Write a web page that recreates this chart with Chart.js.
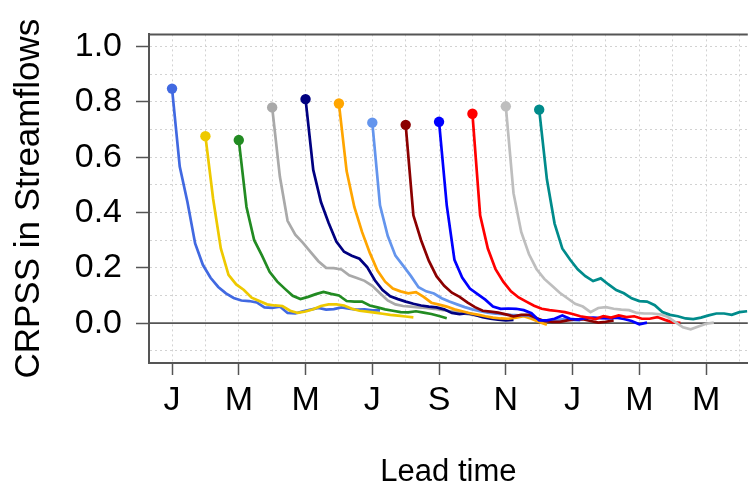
<!DOCTYPE html>
<html>
<head>
<meta charset="utf-8">
<title>CRPSS in Streamflows</title>
<script src="https://cdn.jsdelivr.net/npm/chart.js@4/dist/chart.umd.min.js"></script>
<style>
  html, body { margin: 0; padding: 0; background: #fff; overflow: hidden; }
  #wrap { width: 753px; height: 486px; position: relative; }
</style>
</head>
<body>
<div id="wrap"><canvas id="crpss"></canvas></div>
<script>
// issue month of each forecast run (0 = January of the first year)
var startMonths = [0, 1, 2, 3, 4, 5, 6, 7, 8, 9, 10, 11];
var startNames = ['Jan', 'Feb', 'Mar', 'Apr', 'May', 'Jun', 'Jul', 'Aug', 'Sep', 'Oct', 'Nov', 'Dec'];
var lineColors = ['#4169E1', '#EEC900', '#228B22', '#A9A9A9', '#000080', '#FFA500',
                  '#6495ED', '#8B0000', '#0000FF', '#FF0000', '#BEBEBE', '#008B8B'];
var weekStep = 12 / 52; // one week of lead time, in months

// weekly CRPSS, lead week 0..27, one list per issue month
var crpssJan = [0.848, 0.566, 0.438, 0.288, 0.211, 0.164, 0.131, 0.108, 0.091, 0.082, 0.080, 0.075, 0.057, 0.055, 0.060, 0.037, 0.035, 0.043, 0.049, 0.055, 0.049, 0.051, 0.057, 0.052, 0.049, 0.050, 0.046, 0.046];
var crpssFeb = [0.676, 0.450, 0.270, 0.175, 0.140, 0.120, 0.092, 0.080, 0.068, 0.064, 0.062, 0.045, 0.037, 0.042, 0.050, 0.062, 0.068, 0.068, 0.064, 0.052, 0.045, 0.042, 0.038, 0.034, 0.030, 0.027, 0.024, 0.021];
var crpssMar = [0.662, 0.420, 0.300, 0.245, 0.186, 0.150, 0.124, 0.099, 0.087, 0.095, 0.105, 0.113, 0.106, 0.100, 0.080, 0.078, 0.078, 0.064, 0.057, 0.050, 0.045, 0.040, 0.039, 0.043, 0.038, 0.033, 0.026, 0.018];
var crpssApr = [0.780, 0.530, 0.370, 0.320, 0.290, 0.257, 0.224, 0.200, 0.199, 0.194, 0.173, 0.163, 0.153, 0.135, 0.108, 0.082, 0.068, 0.062, 0.060, 0.057, 0.055, 0.052, 0.048, 0.044, 0.040, 0.034, 0.030, 0.026];
var crpssMay = [0.810, 0.554, 0.438, 0.362, 0.295, 0.258, 0.244, 0.233, 0.203, 0.155, 0.120, 0.097, 0.087, 0.078, 0.070, 0.064, 0.060, 0.057, 0.050, 0.037, 0.033, 0.036, 0.030, 0.022, 0.016, 0.013, 0.010, 0.012];
var crpssJun = [0.794, 0.550, 0.420, 0.330, 0.255, 0.190, 0.150, 0.125, 0.115, 0.108, 0.112, 0.095, 0.074, 0.067, 0.060, 0.050, 0.043, 0.036, 0.031, 0.025, 0.020, 0.017, 0.016, 0.020, 0.025, 0.016, 0.004, -0.006];
var crpssJul = [0.725, 0.426, 0.316, 0.244, 0.208, 0.171, 0.130, 0.115, 0.107, 0.090, 0.078, 0.068, 0.058, 0.050, 0.043, 0.038, 0.034, 0.033, 0.030, 0.028, 0.029, 0.022, 0.010, 0.010, 0.012, 0.015, 0.012, 0.010];
var crpssAug = [0.717, 0.390, 0.300, 0.226, 0.170, 0.135, 0.110, 0.095, 0.075, 0.058, 0.045, 0.042, 0.038, 0.032, 0.025, 0.030, 0.030, 0.018, 0.008, 0.005, 0.005, 0.010, 0.014, 0.014, 0.008, 0.002, 0.005, 0.010];
var crpssSep = [0.728, 0.426, 0.229, 0.165, 0.125, 0.105, 0.085, 0.060, 0.052, 0.053, 0.052, 0.047, 0.036, 0.010, 0.010, 0.016, 0.028, 0.016, 0.013, 0.018, 0.020, 0.018, 0.017, 0.020, 0.015, 0.008, -0.004, 0.002];
var crpssOct = [0.757, 0.390, 0.270, 0.195, 0.150, 0.115, 0.093, 0.078, 0.063, 0.052, 0.047, 0.044, 0.040, 0.033, 0.025, 0.020, 0.015, 0.025, 0.020, 0.028, 0.022, 0.025, 0.016, 0.016, 0.022, 0.012, 0.003, 0.001];
var crpssNov = [0.784, 0.470, 0.330, 0.250, 0.195, 0.160, 0.135, 0.110, 0.090, 0.070, 0.060, 0.040, 0.055, 0.058, 0.052, 0.049, 0.047, 0.037, 0.035, 0.035, 0.032, 0.023, 0.004, -0.015, -0.022, -0.012, -0.002, 0.002];
var crpssDec = [0.772, 0.520, 0.360, 0.270, 0.230, 0.195, 0.170, 0.152, 0.162, 0.140, 0.120, 0.108, 0.090, 0.080, 0.078, 0.065, 0.040, 0.030, 0.025, 0.017, 0.015, 0.020, 0.028, 0.035, 0.035, 0.030, 0.040, 0.043];

var xGridMonths = [0, 1, 2, 3, 4, 5, 6, 7, 8, 9, 10, 11, 12, 13, 14, 15, 16, 17];
var xTickMonths = [0, 2, 4, 6, 8, 10, 12, 14, 16];
var xTickLabels = ['J', 'M', 'M', 'J', 'S', 'N', 'J', 'M', 'M'];
var yGridValues = [-0.1, 0, 0.1, 0.2, 0.3, 0.4, 0.5, 0.6, 0.7, 0.8, 0.9, 1.0];
var yTickValues = [0, 0.2, 0.4, 0.6, 0.8, 1.0];

var series = [crpssJan, crpssFeb, crpssMar, crpssApr, crpssMay, crpssJun,
              crpssJul, crpssAug, crpssSep, crpssOct, crpssNov, crpssDec];

var fontFamily = '"Liberation Sans", Arial, sans-serif';
var axisColor = '#555';
var gridColor = '#d2d2d2';

var datasets = series.map(function(vals, i) {
    return {
        label: startNames[i],
        data: vals.map(function(v, k) {
            return {x: startMonths[i] + k * weekStep, y: v};
        }),
        borderColor: lineColors[i],
        backgroundColor: lineColors[i],
        borderWidth: 2.7,
        pointRadius: function(ctx) { return ctx.dataIndex === 0 ? 5.2 : 0; },
        pointBorderWidth: 0,
        pointHoverRadius: 0,
        tension: 0,
        order: series.length - i   // later issue months drawn on top
    };
});

// zero reference line and the top edge of the box
var framePlugin = {
    id: 'frame',
    beforeDatasetsDraw: function(chart) {
        var ctx = chart.ctx;
        var area = chart.chartArea;
        var y0 = chart.scales.y.getPixelForValue(0);
        ctx.save();
        ctx.strokeStyle = axisColor;
        ctx.lineWidth = 1.6;
        ctx.beginPath();
        ctx.moveTo(area.left, y0);
        ctx.lineTo(area.right, y0);
        ctx.stroke();
        ctx.lineWidth = 2;
        ctx.beginPath();
        ctx.moveTo(area.left, area.top);
        ctx.lineTo(area.right, area.top);
        ctx.stroke();
        ctx.restore();
    }
};

new Chart(document.getElementById('crpss'), {
    type: 'line',
    data: {datasets: datasets},
    plugins: [framePlugin],
    options: {
        responsive: true,
        maintainAspectRatio: false,
        animation: false,
        layout: {padding: {left: 0, right: 0, top: 23, bottom: 0}},
        plugins: {
            legend: {display: false},
            tooltip: {enabled: false}
        },
        scales: {
            x: {
                type: 'linear',
                min: -0.69,
                max: 17.25,
                afterBuildTicks: function(scale) {
                    scale.ticks = xGridMonths.map(function(v) { return {value: v}; });
                },
                afterFit: function(scale) { scale.height = 123; },
                ticks: {
                    autoSkip: false,
                    maxRotation: 0,
                    padding: 5,
                    color: '#000',
                    font: {family: fontFamily, size: 34},
                    callback: function(v) {
                        var i = xTickMonths.indexOf(v);
                        return i >= 0 ? xTickLabels[i] : '';
                    }
                },
                grid: {
                    color: gridColor,
                    lineWidth: 1,
                    tickLength: 12,
                    tickWidth: 1.5,
                    tickBorderDash: [],
                    tickColor: function(ctx) {
                        return xTickMonths.indexOf(ctx.tick.value) >= 0 ? axisColor : 'rgba(0,0,0,0)';
                    }
                },
                border: {display: true, color: axisColor, width: 2, dash: [2, 3]},
                title: {
                    display: true,
                    text: 'Lead time',
                    color: '#000',
                    font: {family: fontFamily, size: 31, lineHeight: 0.9},
                    padding: {top: 0, bottom: 0}
                }
            },
            y: {
                min: -0.144,
                max: 1.044,
                afterBuildTicks: function(scale) {
                    scale.ticks = yGridValues.map(function(v) { return {value: v}; });
                },
                afterFit: function(scale) { scale.width = 149; },
                ticks: {
                    autoSkip: false,
                    padding: 14,
                    color: '#000',
                    font: {family: fontFamily, size: 34},
                    callback: function(v) {
                        return yTickValues.indexOf(v) >= 0 ? v.toFixed(1) : '';
                    }
                },
                grid: {
                    color: function(ctx) {
                        return ctx.tick && ctx.tick.value === 0 ? 'rgba(0,0,0,0)' : gridColor;
                    },
                    lineWidth: 1,
                    tickLength: 13,
                    tickWidth: 1.5,
                    tickBorderDash: [],
                    tickColor: function(ctx) {
                        return yTickValues.indexOf(ctx.tick.value) >= 0 ? axisColor : 'rgba(0,0,0,0)';
                    }
                },
                border: {display: true, color: axisColor, width: 2, dash: [2, 3]},
                title: {
                    display: true,
                    text: 'CRPSS in Streamflows',
                    color: '#000',
                    font: {family: fontFamily, size: 35, lineHeight: 1.2},
                    padding: {top: 8, bottom: 0}
                }
            }
        }
    }
});
</script>
</body>
</html>
